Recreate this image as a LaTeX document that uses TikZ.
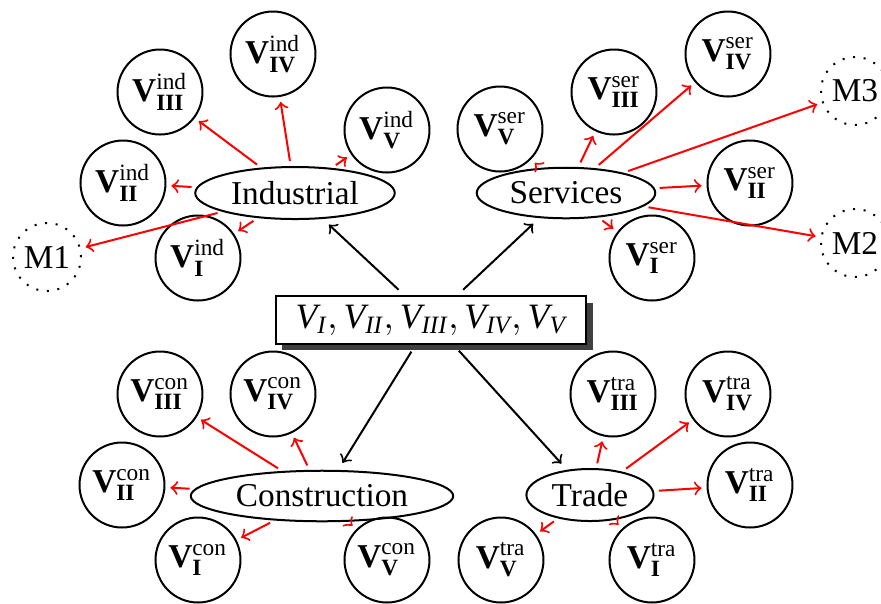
\documentclass[tikz,border=0pt]{standalone}
\usepackage{fontspec}
\setmainfont{Liberation Serif}
\usepackage{tikz}
\usetikzlibrary{shapes.geometric,shadows}

\newcommand{\vnode}[2]{$\mathbf{V}^{\mathrm{#1}}_{\mathbf{#2}}$}

\begin{document}
\begin{tikzpicture}[x=0.3pt, y=-0.3pt]
        % Define styles
        \tikzset{
            sector/.style={ellipse, draw, semithick, inner sep=2pt},
            var/.style={circle, draw, semithick, minimum size=25.5pt, inner sep=0pt},
            market/.style={circle, draw, line width=0.6pt, dash pattern=on 0.6pt off 2.6pt, minimum size=20.4pt, inner sep=0pt},
            allvars/.style={rectangle, draw, semithick, fill=white, inner xsep=6pt, inner ysep=2.5pt,
                font=\fontsize{10.7pt}{13pt}\selectfont,
                drop shadow={fill=black!75, opacity=1, shadow xshift=2pt, shadow yshift=-2pt}},
            arrow/.style={semithick,->,shorten >=2.5pt,shorten <=2.5pt},
            redarrow/.style={semithick,->,red,shorten >=1.5pt,shorten <=1.5pt}
        }
        \useasboundingbox (0,0) rectangle (881,603);

        % Create nodes
        \node [allvars] (vars) at (431,320) {$\mathit{V}_{\mathit{I}}, \mathit{V}_{\mathit{II}}, \mathit{V}_{\mathit{III}}, \mathit{V}_{\mathit{IV}}, \mathit{V}_{\mathit{V}}$};

        \node [sector] (ind) at (295,193) {Industrial};
        \node [sector] (ser) at (566,193) {Services};
        \node [sector] (con) at (322,496) {Construction};
        \node [sector] (tra) at (590,495) {Trade};

        \node [var] (indI) at (198,258) {\vnode{ind}{I}};
        \node [var] (indII) at (123,183) {\vnode{ind}{II}};
        \node [var] (indIII) at (160,92) {\vnode{ind}{III}};
        \node [var] (indIV) at (273,54) {\vnode{ind}{IV}};
        \node [var] (indV) at (387,130) {\vnode{ind}{V}};
        \node [market] (m1) at (47,257) {M1};

        \node [var] (serI) at (652,258) {\vnode{ser}{I}};
        \node [var] (serII) at (750,183) {\vnode{ser}{II}};
        \node [var] (serIII) at (614,92) {\vnode{ser}{III}};
        \node [var] (serIV) at (728,54) {\vnode{ser}{IV}};
        \node [var] (serV) at (500,129) {\vnode{ser}{V}};
        \node [market] (m2) at (855,243) {M2};
        \node [market] (m3) at (855,91) {M3};

        \node [var] (conI) at (198,560) {\vnode{con}{I}};
        \node [var] (conII) at (122,485) {\vnode{con}{II}};
        \node [var] (conIII) at (160,394) {\vnode{con}{III}};
        \node [var] (conIV) at (273,394) {\vnode{con}{IV}};
        \node [var] (conV) at (387,560) {\vnode{con}{V}};

        \node [var] (traI) at (652,560) {\vnode{tra}{I}};
        \node [var] (traII) at (750,485) {\vnode{tra}{II}};
        \node [var] (traIII) at (613,394) {\vnode{tra}{III}};
        \node [var] (traIV) at (728,394) {\vnode{tra}{IV}};
        \node [var] (traV) at (501,560) {\vnode{tra}{V}};

        % Create arrows
        \draw [arrow] (vars) -- (ind);
        \draw [arrow] (vars) -- (ser);
        \draw [arrow] (vars) -- (con);
        \draw [arrow] (vars) -- (tra);

        \draw [redarrow] (ind) -- (indI);
        \draw [redarrow] (ind) -- (indII);
        \draw [redarrow] (ind) -- (indIII);
        \draw [redarrow] (ind) -- (indIV);
        \draw [redarrow] (ind) -- (indV);
        \draw [redarrow] (ind) -- (m1);

        \draw [redarrow] (ser) -- (serI);
        \draw [redarrow] (ser) -- (serII);
        \draw [redarrow] (ser) -- (serIII);
        \draw [redarrow] (ser) -- (serIV);
        \draw [redarrow] (ser) -- (serV);
        \draw [redarrow] (ser) -- (m2);
        \draw [redarrow] (ser) -- (m3);

        \draw [redarrow] (con) -- (conI);
        \draw [redarrow] (con) -- (conII);
        \draw [redarrow] (con) -- (conIII);
        \draw [redarrow] (con) -- (conIV);
        \draw [redarrow] (con) -- (conV);

        \draw [redarrow] (tra) -- (traI);
        \draw [redarrow] (tra) -- (traII);
        \draw [redarrow] (tra) -- (traIII);
        \draw [redarrow] (tra) -- (traIV);
        \draw [redarrow] (tra) -- (traV);
    \end{tikzpicture}
\end{document}
